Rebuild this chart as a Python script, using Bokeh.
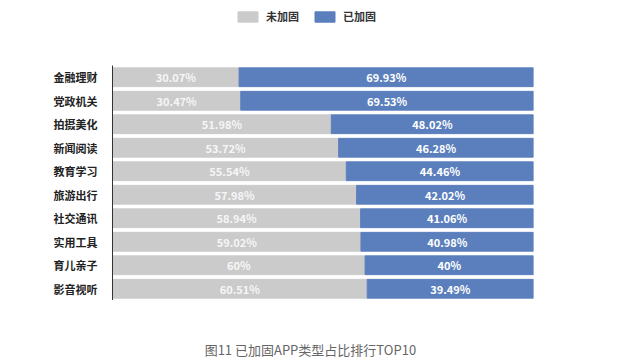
from bokeh.plotting import figure
from bokeh.layouts import column
from bokeh.models import ColumnDataSource, FactorRange, Range1d, Label, Legend, LegendItem
from bokeh.core.properties import value
from bokeh.embed import file_html
from bokeh.resources import INLINE

categories = ["金融理财", "党政机关", "拍摄美化", "新闻阅读", "教育学习",
              "旅游出行", "社交通讯", "实用工具", "育儿亲子", "影音视听"]
unreinforced = [30.07, 30.47, 51.98, 53.72, 55.54, 57.98, 58.94, 59.02, 60, 60.51]
reinforced = [69.93, 69.53, 48.02, 46.28, 44.46, 42.02, 41.06, 40.98, 40, 39.49]
series = ["未加固", "已加固"]
colors = ["#cbcbcb", "#5b7fbd"]
caption = "图11 已加固APP类型占比排行TOP10"

src = ColumnDataSource(dict(
    cat=categories,
    a=unreinforced,
    b=reinforced,
    a_mid=[v / 2 for v in unreinforced],
    b_mid=[u + v / 2 for u, v in zip(unreinforced, reinforced)],
    a_lab=[f"{v:g}%" for v in unreinforced],
    b_lab=[f"{v:g}%" for v in reinforced],
))


def blank(fig):
    fig.xaxis.visible = False
    fig.yaxis.visible = False
    fig.xgrid.visible = False
    fig.ygrid.visible = False
    fig.outline_line_color = None
    return fig


W = 623
# ---- legend strip ----
top = blank(figure(width=W, height=65, x_range=Range1d(0, 1), y_range=Range1d(0, 1),
                   output_backend="svg", toolbar_location=None, min_border=0))
# swatch renderers (kept outside the visible range; they only feed the legend)
leg_rs = [top.hbar(y=[-5], left=[0], right=[1], height=1, color=c) for c in colors]
legend = Legend(items=[LegendItem(label=s, renderers=[r]) for s, r in zip(series, leg_rs)],
                orientation="horizontal", location=(123, 41), padding=0, margin=0,
                spacing=13, label_standoff=6, glyph_width=25, glyph_height=13,
                label_height=13, label_text_font="Noto Sans CJK SC",
                label_text_font_style="bold", label_text_font_size="11px",
                label_text_color="#333333", label_text_baseline="middle",
                border_line_color=None, background_fill_alpha=0)
top.add_layout(legend)

# ---- main chart ----
p = figure(width=W, height=235,
           y_range=FactorRange(*categories[::-1]),
           x_range=Range1d(0, 100),
           output_backend="svg", toolbar_location=None,
           min_border_left=112, min_border_right=90,
           min_border_top=0, min_border_bottom=0)

p.hbar_stack(["a", "b"], y="cat", height=0.8, color=colors, source=src)

font = value("Noto Sans CJK SC")
p.text(x="a_mid", y="cat", text="a_lab", source=src, text_align="center",
       text_baseline="middle", text_color="#f6f6f6", text_font=font,
       text_font_style="bold", text_font_size="11px")
p.text(x="b_mid", y="cat", text="b_lab", source=src, text_align="center",
       text_baseline="middle", text_color="#ffffff", text_font=font,
       text_font_style="bold", text_font_size="11px")

p.xaxis.visible = False
p.xgrid.visible = False
p.ygrid.visible = False
p.outline_line_color = None
p.yaxis.axis_line_color = "#333333"
p.yaxis.major_tick_line_color = None
p.yaxis.minor_tick_line_color = None
p.yaxis.major_label_standoff = 9
p.yaxis.major_label_text_font = "Noto Sans CJK SC"
p.yaxis.major_label_text_font_style = "bold"
p.yaxis.major_label_text_font_size = "11px"
p.yaxis.major_label_text_color = "#222222"

# ---- caption strip ----
bottom = blank(figure(width=W, height=64, x_range=Range1d(0, 1), y_range=Range1d(0, 1),
                      output_backend="svg", toolbar_location=None, min_border=0))
bottom.add_layout(Label(x=0.47, y=0.24, text=caption, text_align="center",
                        text_baseline="middle", text_font="Noto Sans CJK SC",
                        text_font_size="13px", text_color="#666666"))

layout = column(top, p, bottom, spacing=0)
open("out.html", "w").write(file_html(layout, INLINE))
